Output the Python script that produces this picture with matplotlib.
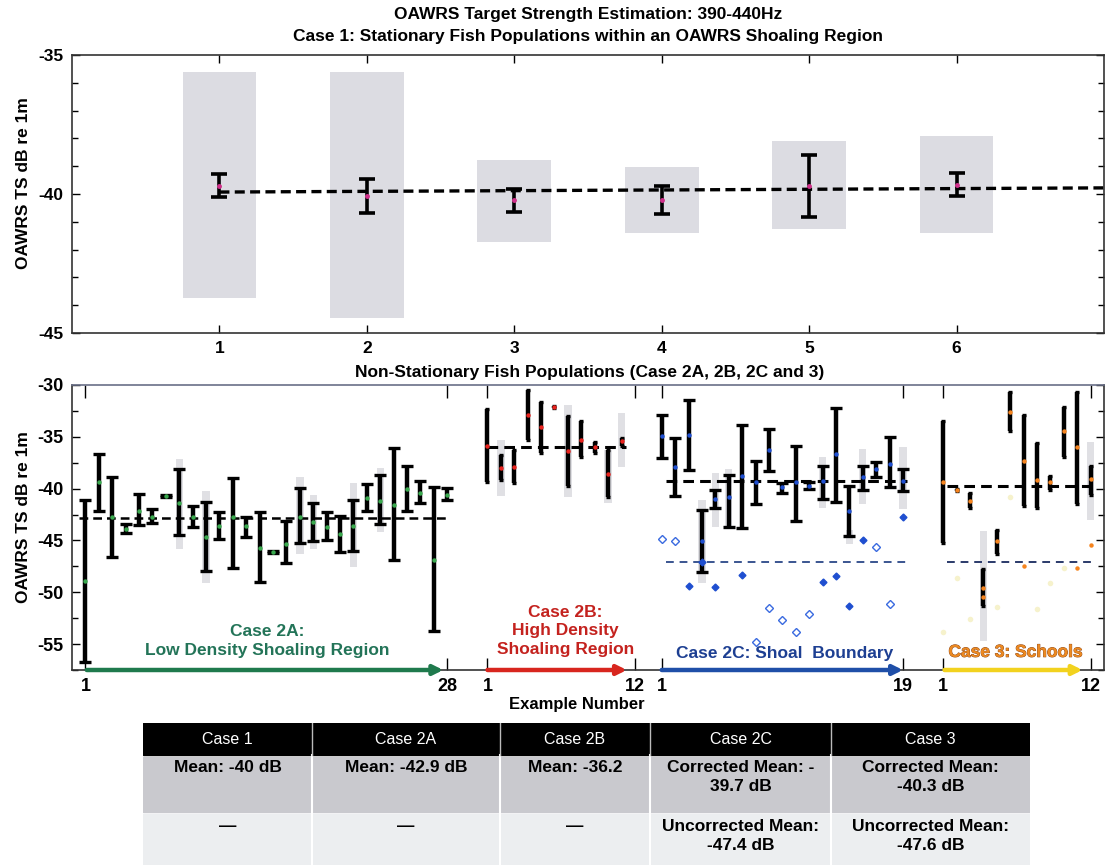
import numpy as np
import matplotlib
matplotlib.use("Agg")
import matplotlib.pyplot as plt
from matplotlib.patches import Rectangle
import matplotlib.patheffects as pe

plt.rcParams['font.family'] = ['Liberation Sans', 'DejaVu Sans']
plt.rcParams['axes.unicode_minus'] = False
NARROW = ['Liberation Sans Narrow', 'Liberation Sans', 'DejaVu Sans']

# ---- Case 1 (top panel) ----
case1_x = [1, 2, 3, 4, 5, 6]
case1_box_lo = [-43.74, -44.46, -41.73, -41.40, -41.26, -41.40]
case1_box_hi = [-35.61, -35.60, -38.78, -39.03, -38.10, -37.90]
case1_err_lo = [-40.10, -40.68, -40.65, -40.72, -40.83, -40.07]
case1_err_hi = [-39.28, -39.46, -39.82, -39.71, -38.60, -39.24]
case1_mean = [-39.70, -40.07, -40.20, -40.20, -39.71, -39.68]
case1_line_x = [1, 7]
case1_line_y = [-39.93, -39.78]

# ---- Case 2A ----
c2a_top = [-41.1, -36.7, -38.9, -43.4, -40.5, -42.0, -40.65, -38.1, -41.7, -41.3, -42.3, -39.0, -42.7, -42.3,
           -46.0, -43.1, -39.9, -41.4, -42.3, -42.6, -41.1, -39.6, -38.7, -36.1, -37.8, -39.3, -39.8, -39.9]
c2a_bot = [-56.7, -42.2, -46.6, -44.3, -43.5, -43.3, -40.8, -44.5, -43.7, -47.9, -44.9, -47.7, -44.7, -49.0,
           -46.2, -47.2, -45.2, -45.1, -45.0, -46.1, -46.0, -42.2, -43.4, -46.9, -42.2, -41.4, -53.7, -41.1]
c2a_mean = [-48.9, -39.4, -42.7, -43.9, -42.2, -42.7, -40.7, -41.4, -42.7, -44.7, -43.6, -42.7, -43.6, -45.7,
            -46.1, -45.3, -42.7, -43.2, -43.7, -44.4, -43.6, -40.9, -41.2, -41.6, -40.0, -40.4, -46.9, -40.6]
c2a_band_idx = [8, 10, 17, 18, 21, 23]
c2a_band_lo = [-45.8, -49.1, -46.3, -45.8, -47.6, -44.2]
c2a_band_hi = [-37.1, -40.2, -38.9, -40.6, -39.5, -38.0]
c2a_level = -42.8

# ---- Case 2B ----
c2b_top = [-32.3, -36.8, -36.3, -30.5, -31.6, -32.0, -33.0, -33.5, -35.5, -36.3, -35.1]
c2b_bot = [-39.35, -39.2, -39.5, -35.3, -36.6, -32.2, -39.7, -36.9, -36.6, -40.8, -35.9]
c2b_mean = [-35.9, -38.0, -37.95, -32.9, -34.1, -32.1, -36.4, -35.3, -36.0, -38.6, -35.4]
c2b_band_idx = [2, 7, 10, 11]
c2b_band_lo = [-40.7, -40.8, -41.4, -37.9]
c2b_band_hi = [-35.3, -31.9, -36.3, -32.7]
c2b_level = -36.0

# ---- Case 2C ----
c2c_top = [-32.9, -35.1, -31.4, -42.1, -40.1, -38.7, -33.85, -37.35, -34.2, -39.5, -35.9, -39.4, -37.8, -32.2,
           -39.7, -37.8, -37.4, -35.0, -38.1]
c2c_bot = [-37.0, -40.7, -38.2, -48.0, -41.9, -43.7, -43.8, -41.5, -38.3, -40.4, -43.1, -40.0, -41.0, -41.3,
           -44.6, -40.1, -38.9, -39.8, -40.2]
c2c_mean = [-34.9, -37.9, -34.8, -45.1, -41.0, -40.8, -38.8, -39.4, -36.3, -39.8, -39.4, -39.7, -39.3, -36.7,
            -42.2, -38.9, -38.1, -37.6, -39.3]
c2c_unc_filled = [None, None, -49.4, -47.1, -49.5, None, -48.35, None, None, None, None, None, -49.0, -48.4,
                  -51.3, -45.0, None, None, -42.7]
c2c_unc_open = [-44.85, -45.1, None, None, None, None, None, -54.8, -51.5, -52.7, -53.8, -52.1, None, None,
                None, None, -45.6, -51.1, None]
c2c_band_idx = [4, 5, 6, 13, 15, 16, 19]
c2c_band_lo = [-49.1, -43.7, -43.7, -41.9, -45.3, -41.5, -42.0]
c2c_band_hi = [-41.1, -38.5, -38.1, -36.9, -44.0, -36.2, -36.0]
c2c_level = -39.3
c2c_unc_level = -47.1

# ---- Case 3 ----
c3_top = [-33.5, -40.0, -40.4, -47.8, -44.0, -30.7, -32.9, -35.6, -38.8, -32.1, -30.7, -37.8]
c3_bot = [-45.2, -40.2, -41.9, -51.3, -46.3, -34.4, -41.7, -41.9, -40.1, -36.9, -41.5, -40.6]
c3_mean = [-39.35, -40.1, -41.2, -49.6, -45.1, -32.6, -37.35, -39.2, -39.4, -34.4, -36.0, -39.1]
c3_extra_idx = [4, 7, 11, 12]
c3_extra_val = [-50.5, -47.5, -47.7, -45.4]
c3_faint_idx = [1, 2, 3, 5, 6, 8, 9, 10]
c3_faint_val = [-53.8, -48.6, -52.6, -51.4, -40.8, -51.6, -49.1, -47.7]
c3_band_idx = [4, 12]
c3_band_lo = [-54.7, -43.0]
c3_band_hi = [-44.1, -35.5]
c3_level = -39.7
c3_unc_level = -47.1

# offsets of each group on the shared x axis
off_2a, off_2b, off_2c, off_3 = 0, 30, 43, 64
tick_pos = [1, 28, 31, 42, 44, 62, 65, 76]
tick_lab = ['1', '28', '1', '12', '1', '19', '1', '12']

# table
table_cols = ['Case 1', 'Case 2A', 'Case 2B', 'Case 2C', 'Case 3']
table_row1 = ['Mean: -40 dB', 'Mean: -42.9 dB', 'Mean: -36.2',
              'Corrected Mean: -\n39.7 dB', 'Corrected Mean:\n-40.3 dB']
table_row2 = ['\u2014', '\u2014', '\u2014', 'Uncorrected Mean:\n-47.4 dB', 'Uncorrected Mean:\n-47.6 dB']

W, H = 1105, 865
fig = plt.figure(figsize=(W / 100, H / 100), dpi=100)


def px_axes(l, t, r, b):
    return fig.add_axes([l / W, 1 - b / H, (r - l) / W, (b - t) / H])


def style_axes(ax, fs):
    ax.tick_params(which='both', direction='in', top=True, right=True, width=1)
    ax.tick_params(which='major', length=6, labelsize=fs, pad=6)
    ax.tick_params(which='minor', length=4)
    for lab in ax.get_xticklabels() + ax.get_yticklabels():
        lab.set_fontweight('bold')
    for s in ax.spines.values():
        s.set_linewidth(1.2)
        s.set_color('#333333')


# ================= top panel =================
ax1 = px_axes(72, 55, 1104, 333)
x1 = np.array(case1_x)
lo = np.array(case1_box_lo)
hi = np.array(case1_box_hi)
ax1.bar(x1, hi - lo, bottom=lo, width=0.5, color='#dcdce2', zorder=1)
m1 = np.array(case1_mean)
ax1.plot(case1_line_x, case1_line_y, ls=(0, (3, 1.6)), color='black', lw=2.4, zorder=2)
ax1.errorbar(x1, m1, yerr=[m1 - np.array(case1_err_lo), np.array(case1_err_hi) - m1], fmt='none',
             ecolor='black', elinewidth=2.6, capsize=6, capthick=2.6, zorder=3)
ax1.plot(x1, m1, 'o', ms=2.5, color='#d0308a', zorder=4)
ax1.set_xlim(0, 7)
ax1.set_ylim(-45, -35)
ax1.set_xticks(case1_x)
ax1.set_yticks([-45, -40, -35])
ax1.set_yticks(np.arange(-45, -34, 1), minor=True)
style_axes(ax1, 12.5)

fig.text(588 / W, 1 - 14 / H, 'OAWRS Target Strength Estimation: 390-440Hz', ha='center', va='center',
         fontsize=12.5, fontweight='bold', family=NARROW)
fig.text(588 / W, 1 - 36 / H, 'Case 1: Stationary Fish Populations within an OAWRS Shoaling Region',
         ha='center', va='center', fontsize=12.5, fontweight='bold', family=NARROW)
fig.text(24 / W, 1 - 183 / H, 'OAWRS TS dB re 1m', rotation=90, ha='center', va='center',
         fontsize=12.5, fontweight='bold')

# ================= lower panel =================
ax2 = px_axes(72, 385, 1104, 670)


def draw_group(off, top, bot, mean, color, band_idx, band_lo, band_hi, capsize):
    pos = np.arange(1, len(top) + 1) + off
    top = np.array(top)
    bot = np.array(bot)
    mean = np.array(mean)
    bpos = np.array(band_idx) + off
    blo = np.array(band_lo)
    bhi = np.array(band_hi)
    ax2.bar(bpos, bhi - blo, bottom=blo, width=0.55, color='#e0e0e4', zorder=1)
    ax2.errorbar(pos, mean, yerr=[mean - bot, top - mean], fmt='none', ecolor='black',
                 elinewidth=3.2, capsize=capsize, capthick=2.4, zorder=3)
    ax2.plot(pos, mean, 'o', ms=3.2, color=color, zorder=4, mec='none')
    return pos


p2a = draw_group(off_2a, c2a_top, c2a_bot, c2a_mean, '#3aa84e', c2a_band_idx, c2a_band_lo, c2a_band_hi, 4)
p2b = draw_group(off_2b, c2b_top, c2b_bot, c2b_mean, '#e8231e', c2b_band_idx, c2b_band_lo, c2b_band_hi, 1.5)
p2c = draw_group(off_2c, c2c_top, c2c_bot, c2c_mean, '#1f4fd0', c2c_band_idx, c2c_band_lo, c2c_band_hi, 4)
p3 = draw_group(off_3, c3_top, c3_bot, c3_mean, '#f5841f', c3_band_idx, c3_band_lo, c3_band_hi, 1.5)

# group means
dash = (0, (3.5, 2))
ax2.plot([0.5, 28.2], [c2a_level] * 2, ls=dash, color='black', lw=1.8, zorder=2)
ax2.plot([31, 41.3], [c2b_level] * 2, ls=dash, color='black', lw=2.2, zorder=2)
ax2.plot([44.3, 62.3], [c2c_level] * 2, ls=dash, color='black', lw=2.2, zorder=2)
ax2.plot([44.3, 62.2], [c2c_unc_level] * 2, ls=(0, (4, 3)), color='#3a5590', lw=1.4, zorder=2)
ax2.plot([65.3, 76], [c3_level] * 2, ls=dash, color='black', lw=2.2, zorder=2)
ax2.plot([65.3, 76], [c3_unc_level] * 2, ls=(0, (4, 3)), color='#2a3a6a', lw=1.4, zorder=2)

# uncorrected points, case 2C
for p, vf, vo in zip(p2c, c2c_unc_filled, c2c_unc_open):
    if vf is not None:
        ax2.plot(p, vf, 'D', ms=3.5, color='#1f4fd0', mec='#1f4fd0', zorder=4)
    if vo is not None:
        ax2.plot(p, vo, 'D', ms=3.8, mfc='white', mec='#3a6ae0', mew=1, zorder=4)

# extra points, case 3
ax2.plot(np.array(c3_extra_idx) + off_3, c3_extra_val, 'o', ms=3.2, color='#f5841f', mec='none', zorder=4)
ax2.plot(np.array(c3_faint_idx) + off_3, c3_faint_val, 'o', ms=4, color='#f6f2cc', mec='none', zorder=1)

ax2.set_xlim(0, 77)
ax2.set_ylim(-57.5, -30)
ax2.set_xticks(tick_pos)
ax2.set_xticklabels(tick_lab)
ax2.set_yticks([-55, -50, -45, -40, -35, -30])
ax2.set_yticks(np.arange(-57.5, -29, 2.5), minor=True)
style_axes(ax2, 13)
ax2.tick_params(axis='x', which='both', length=9)
ax2.spines['top'].set_color('#6a7088')

# arrows along the bottom
arrows = [(1.1, 27.7, '#1f7a4d'), (31.0, 41.4, '#d8261e'), (44.0, 62.0, '#1f4fa8'), (65.1, 75.4, '#f2d21e')]
for xs, xe, col in arrows:
    ax2.annotate('', xy=(xe, 0.0), xytext=(xs, 0.0), xycoords=('data', 'axes fraction'),
                 arrowprops=dict(arrowstyle='-|>', color=col, lw=3.2, mutation_scale=14,
                                 shrinkA=0, shrinkB=0), annotation_clip=False, zorder=6)

ax2.text(14.6, -54.7, 'Case 2A:\nLow Density Shoaling Region', ha='center', va='center', color='#237458',
         fontsize=12.5, fontweight='bold', family=NARROW, linespacing=1.3)
ax2.text(36.8, -53.7, 'Case 2B:\nHigh Density\nShoaling Region', ha='center', va='center', color='#c4221e',
         fontsize=12.5, fontweight='bold', family=NARROW, linespacing=1.3)
ax2.text(53.2, -55.9, 'Case 2C: Shoal  Boundary', ha='center', va='center', color='#1d3f92',
         fontsize=12.5, fontweight='bold', family=NARROW)
ax2.text(70.4, -55.8, 'Case 3: Schools', ha='center', va='center', color='#ec8a22',
         fontsize=12.5, fontweight='bold', family=NARROW,
         path_effects=[pe.withStroke(linewidth=0.6, foreground='#8a4418')])

fig.text(590 / W, 1 - 372 / H, 'Non-Stationary Fish Populations (Case 2A, 2B, 2C and 3)', ha='center',
         va='center', fontsize=12.5, fontweight='bold', family=NARROW)
fig.text(24 / W, 1 - 517 / H, 'OAWRS TS dB re 1m', rotation=90, ha='center', va='center',
         fontsize=12.5, fontweight='bold')
fig.text(577 / W, 1 - 704 / H, 'Example Number', ha='center', va='center', fontsize=12,
         fontweight='bold', family=NARROW)

# ================= table =================
edges = [143, 312, 500, 650, 831, 1030]
axt = px_axes(143, 723, 1030, 865)
axt.set_xlim(143, 1030)
axt.set_ylim(865, 723)
axt.axis('off')
axt.add_patch(Rectangle((143, 723), 887, 32, color='black'))
axt.add_patch(Rectangle((143, 757), 887, 55, color='#c9c9ce'))
axt.add_patch(Rectangle((143, 814), 887, 51, color='#eceef0'))
for xe in edges[1:-1]:
    axt.plot([xe, xe], [755, 865], color='white', lw=1.5)
    axt.plot([xe, xe], [723, 755], color='#bbbbbb', lw=1)
for i in range(5):
    xc = (edges[i] + edges[i + 1]) / 2
    axt.text(xc, 740, table_cols[i], ha='center', va='center', color='white', fontsize=11.5, family=NARROW)
    axt.text(xc, 760, table_row1[i], ha='center', va='top', color='black', fontsize=12.5,
             fontweight='bold', family=NARROW, linespacing=1.35)
    axt.text(xc, 819, table_row2[i], ha='center', va='top', color='black', fontsize=12.5,
             fontweight='bold', family=NARROW, linespacing=1.35)

fig.savefig('out.png', dpi=100)
